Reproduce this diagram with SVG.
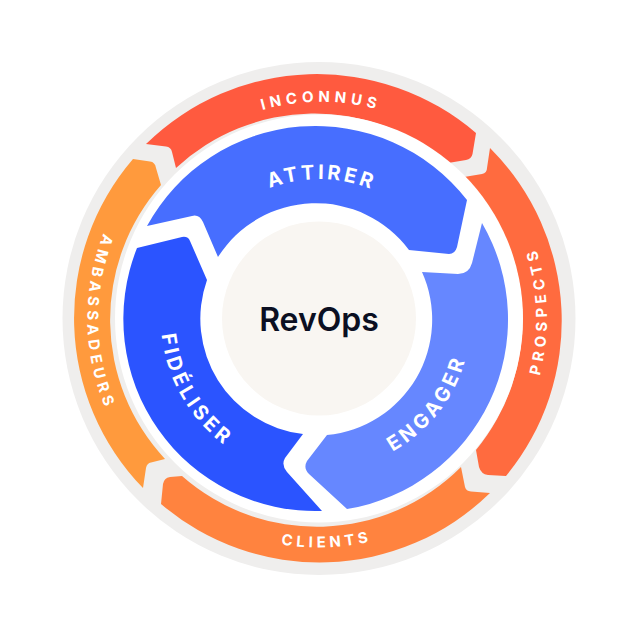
<svg xmlns="http://www.w3.org/2000/svg" width="638" height="637" viewBox="0 0 638 637">
<style>
.o{font-family:Inter,"Liberation Sans",sans-serif;font-weight:700;font-size:15px;letter-spacing:4.6px;fill:#fff}
.b{font-family:Inter,"Liberation Sans",sans-serif;font-weight:700;font-size:20px;letter-spacing:3.8px;fill:#fff}
.c{font-family:Inter,"Liberation Sans",sans-serif;font-weight:600;font-size:32px;fill:#0b0f22}
</style>
<defs>
<path id="pInc" d="M117.800 244.600A216 216 0 0 1 524.200 244.600"/>
<path id="pPro" d="M404.400 529.900A228 228 0 0 0 389.500 101.700"/>
<path id="pCli" d="M106.700 404.300A229 229 0 0 0 536.800 389.300"/>
<path id="pAmb" d="M294.800 87.800A232 232 0 0 0 302.800 549.900"/>
<path id="pAtt" d="M189 268.400A139.500 139.500 0 0 1 451 273"/>
<path id="pEng" d="M272 463.100A152 152 0 0 0 447.900 238"/>
<path id="pFid" d="M198 216.900A158 158 0 0 0 346.400 474.100"/>
</defs>
<circle id="background" cx="319" cy="318.5" r="256.5" fill="#efeeed"/>
<g id="inconnus">
<path fill="#ff5a3f" d="M146 144A244 244 0 0 1 476 133L472.500 154Q471.500 159 466 160L448 163A204 204 0 0 0 176 168L172 152Q171 147 166 146.500Z"/>
<text class="o"><textPath href="#pInc" startOffset="50%" text-anchor="middle">INCONNUS</textPath></text>
</g>
<g id="prospects">
<path fill="#ff6b3f" d="M490 148A244 244 0 0 1 506 476L488 475Q481 474 479 467L476 450A204 204 0 0 0 464 177L482 174Q487 173 487 168Z"/>
<text class="o"><textPath href="#pPro" startOffset="50%" text-anchor="middle">PROSPECTS</textPath></text>
</g>
<g id="clients">
<path fill="#ff833f" d="M490 493A244 244 0 0 1 161 504L163 484Q164 478 170 477L182 476A204 204 0 0 0 461 467L465 487Q466 491 471 491.500Z"/>
<text class="o" style="letter-spacing:4px"><textPath href="#pCli" startOffset="50%" text-anchor="middle">CLIENTS</textPath></text>
</g>
<g id="ambassadeurs">
<path fill="#ff9a3d" d="M143 488A244 244 0 0 1 133 159L150 161.500Q155 162 156 168L161 185A204 204 0 0 0 165 459L151 462.500Q147 463 146 468Z"/>
<text class="o"><textPath href="#pAmb" startOffset="50%" text-anchor="middle">AMBASSADEURS</textPath></text>
</g>
<circle id="separator" cx="319" cy="318.5" r="204" fill="#fff"/>
<g id="attirer">
<path fill="#476eff" d="M147 226A192 192 0 0 1 467 200L457 247Q455 254 449 254L409 250A116 116 0 0 0 218 257L203 222Q199 214 192 216Z"/>
<text class="b" style="letter-spacing:3.2px"><textPath href="#pAtt" startOffset="50%" text-anchor="middle">ATTIRER</textPath></text>
</g>
<g id="engager">
<path fill="#6687ff" d="M482 223A192 192 0 0 1 347 509L309 474Q303 468 307 461L327 435A116 116 0 0 0 422 272L458 274Q469 274 472 263Z"/>
<text class="b"><textPath href="#pEng" startOffset="50%" text-anchor="middle">ENGAGER</textPath></text>
</g>
<g id="fideliser">
<path fill="#2b54ff" d="M137 248L182 237Q188 236 190 241L207 280A116 116 0 0 0 303 434L285 458Q281 465 287 472L322 511A192 192 0 0 1 137 248Z"/>
<text class="b"><textPath href="#pFid" startOffset="50%" text-anchor="middle">FIDÉLISER</textPath></text>
</g>
<g id="revops">
<circle cx="319" cy="318.500" r="97" fill="#f9f6f2"/>
<text class="c" x="319" y="331" text-anchor="middle">RevOps</text>
</g>
</svg>
